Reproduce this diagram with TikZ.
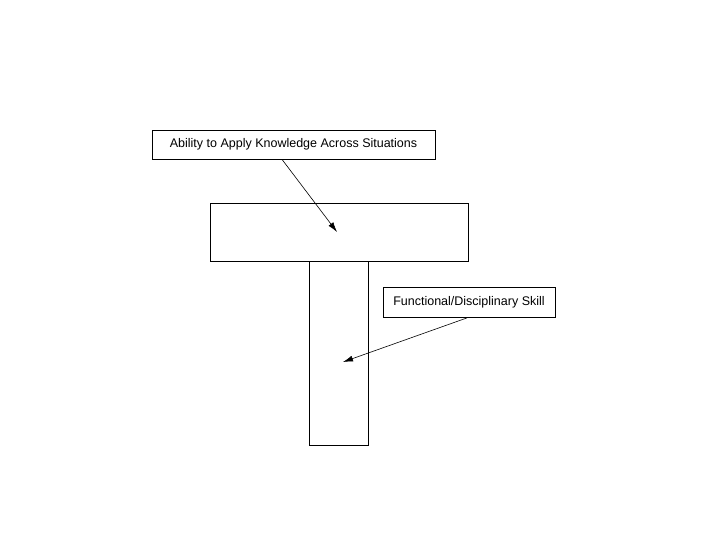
\documentclass[tikz,border=0pt]{standalone}
\usepackage{fontspec}
\setmainfont{Liberation Sans}
\usetikzlibrary{arrows.meta}
\begin{document}
\begin{tikzpicture}[x=1pt,y=-1pt,
  lbl/.style={draw=black,line width=0.8pt,fill=white,inner sep=0pt,font=\fontsize{12.5}{14}\selectfont},
  part/.style={draw=black,line width=0.9pt,inner sep=0pt},
  pointer/.style={line width=0.6pt,-{Latex[length=10pt,width=6pt]}}]
\useasboundingbox (0,0) rectangle (720,540);
\node[part,minimum width=258pt,minimum height=58pt] (bar) at (339.5,232) {};
\node[part,minimum width=59pt,minimum height=184pt] (stem) at (338.5,353.5) {};
\node[lbl,minimum width=283pt,minimum height=29pt] (lblA) at (293.5,144.5) {Ability to Apply Knowledge Across Situations};
\node[lbl,minimum width=172pt,minimum height=30pt] (lblB) at (469,302.5) {Functional/Disciplinary Skill};
\coordinate (tipA) at (337,232);
\coordinate (tipB) at (343,362);
\coordinate (startA) at ([xshift=-11.5pt]lblA.south);
\draw[pointer] (startA) -- (tipA);
\draw[pointer] ([xshift=-2pt]lblB.south) -- (tipB);
\end{tikzpicture}
\end{document}
